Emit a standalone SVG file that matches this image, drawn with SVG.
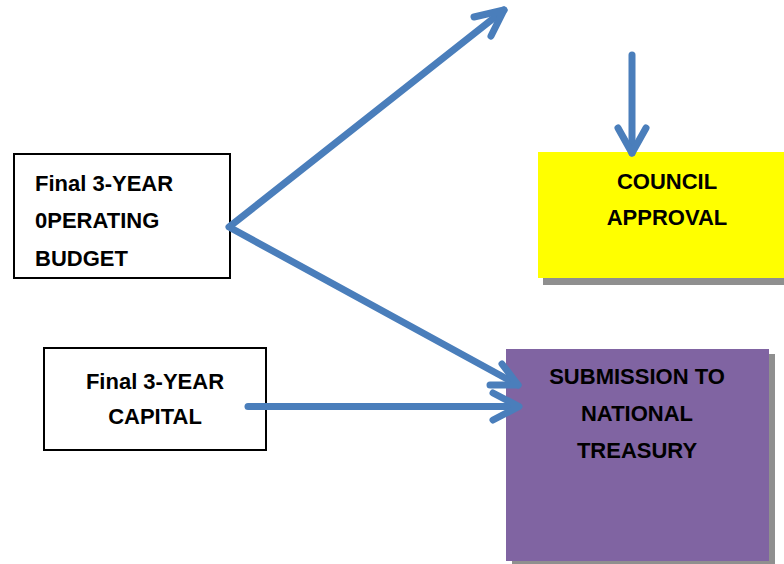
<svg xmlns="http://www.w3.org/2000/svg" width="784" height="564" viewBox="0 0 784 564">
<style>
.box{fill:#ffffff;stroke:#000000;stroke-width:2}
.t{font-family:"Liberation Sans",Arial,sans-serif;font-weight:bold;font-size:22px;fill:#000000}
.c{text-anchor:middle}
.shadow{fill:#8f8f8f}
.conn{fill:none;stroke:#4a7ebb;stroke-width:7;stroke-linecap:round;stroke-linejoin:round}
</style>
<rect width="784" height="564" fill="#ffffff"/>
<g id="council">
<rect class="shadow" x="543" y="158" width="241" height="127"/>
<rect x="538" y="152" width="246" height="126" fill="#ffff00"/>
<text class="t c" x="667" y="189">COUNCIL</text>
<text class="t c" x="667" y="225">APPROVAL</text>
</g>
<g id="treasury">
<rect class="shadow" x="512" y="354" width="263" height="210"/>
<rect x="506" y="349" width="263" height="212" fill="#8064a2"/>
<text class="t c" x="637" y="384" fill="#1a1a1a">SUBMISSION TO</text>
<text class="t c" x="637" y="421" fill="#1a1a1a">NATIONAL</text>
<text class="t c" x="637" y="458" fill="#1a1a1a">TREASURY</text>
</g>
<g id="operating">
<rect class="box" x="14" y="154" width="216" height="124"/>
<text class="t" x="35" y="191">Final 3-YEAR</text>
<text class="t" x="35" y="228">0PERATING</text>
<text class="t" x="35" y="266">BUDGET</text>
</g>
<g id="capital">
<rect class="box" x="44" y="348" width="222" height="102"/>
<text class="t c" x="155" y="389">Final 3-YEAR</text>
<text class="t c" x="155" y="424">CAPITAL</text>
</g>
<g id="connectors">
<polyline class="conn" points="504,10 229,227 518,385"/>
<polyline class="conn" points="474,17 504,10 491,36"/>
<polyline class="conn" points="502,364 518,385 490,385"/>
<line class="conn" x1="248" y1="406.5" x2="518" y2="406.5" stroke-linecap="butt"/>
<polyline class="conn" points="493,393 519,406.5 493,420"/>
<line class="conn" x1="632" y1="55" x2="632" y2="153" stroke-linecap="butt"/>
<polyline class="conn" points="618,128 632,153 646,128"/>
</g>
</svg>
